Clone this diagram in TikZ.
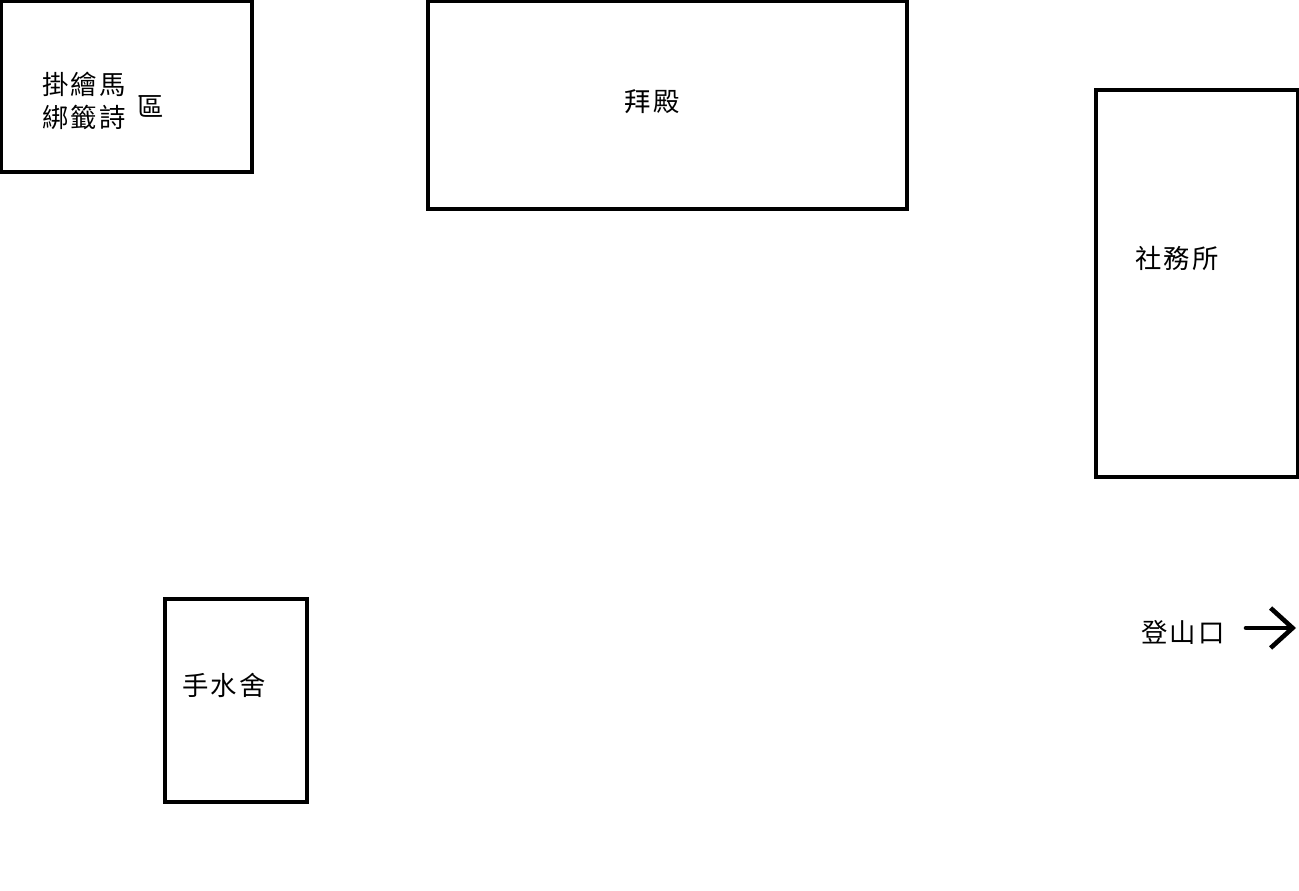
\documentclass[tikz,border=0pt]{standalone}
\usepackage{fontspec}
\usetikzlibrary{arrows.meta}
\newfontfamily\cjk[LetterSpace=8]{Noto Sans CJK TC}
\tikzset{
  hall/.style={draw, line width=1.8pt, inner sep=0pt},
  lbl/.style={font=\cjk\fontsize{15}{19}\selectfont, inner sep=0pt},
  way/.style={-{Straight Barb[length=4.4mm, width=8mm]}, line width=2.6pt, line cap=round},
}

\begin{document}
\begin{tikzpicture}[x=0.02cm, y=-0.02cm]
  \useasboundingbox (0,0) rectangle (1299,891);
  % buildings
  \node[hall, minimum width=5.02cm, minimum height=3.42cm] (ema) at (126.5,86.5) {};
  \node[hall, minimum width=9.58cm, minimum height=4.16cm] (haiden) at (667.5,105) {};
  \node[hall, minimum width=4.04cm, minimum height=7.74cm] (shamusho) at (1197,283.5) {};
  \node[hall, minimum width=2.84cm, minimum height=4.06cm] (temizuya) at (236,700.5) {};
  % labels
  \node[lbl, align=center] (emalbl) at (84,101) {掛繪馬\\綁籤詩};
  \node[lbl] (ku) at (151,106) {區};
  \node[lbl] (haidenlbl) at (652,102) {拜殿};
  \node[lbl] (shamusholbl) at (1177,258) {社務所};
  \node[lbl] (temizuyalbl) at (224,685) {手水舍};
  \node[lbl] (gate) at (1183,632) {登山口};
  % way to the trail
  \coordinate (wayA) at (1246,628);
  \coordinate (wayB) at (1296,628);
  \draw[way] (wayA) -- (wayB);
\end{tikzpicture}
\end{document}
